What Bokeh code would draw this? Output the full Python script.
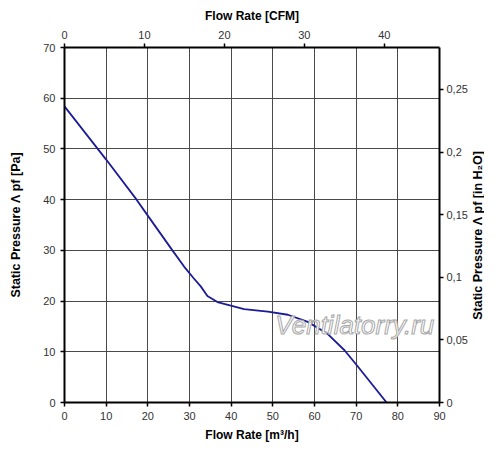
import math
from bokeh.plotting import figure
from bokeh.layouts import row
from bokeh.models import Range1d, LinearAxis, FixedTicker, Label, Grid
from bokeh.core.properties import value
from bokeh.embed import file_html
from bokeh.resources import INLINE

# Data
flow_m3h = [0, 10, 17.3, 20.2, 25.9, 28.7, 31.0, 32.7, 34.3, 36.7, 39.9, 43.1, 48.8, 53.6, 58.4, 63.2, 67.2, 70.4, 77.3]
pressure_pa = [58.4, 47.9, 40.0, 36.6, 30.0, 26.8, 24.5, 22.9, 21.0, 19.8, 19.1, 18.4, 17.9, 17.3, 15.9, 13.5, 10.3, 7.1, 0.0]

x_ticks = [0, 10, 20, 30, 40, 50, 60, 70, 80, 90]
y_ticks = [0, 10, 20, 30, 40, 50, 60, 70]
cfm_ticks = [0, 10, 20, 30, 40]
inh2o_ticks = [0, 0.05, 0.1, 0.15, 0.2, 0.25]
inh2o_labels = ["0", "0,05", "0,1", "0,15", "0,2", "0,25"]

FONT = "Liberation Sans"

p = figure(width=470, height=444, output_backend="svg", toolbar_location=None,
           x_range=Range1d(0, 90), y_range=Range1d(0, 70),
           x_axis_type=None, y_axis_type=None,
           min_border_left=64, min_border_right=30, min_border_top=47, min_border_bottom=40)
p.extra_x_ranges = {"cfm": Range1d(0, 46.9)}
p.extra_y_ranges = {"inh2o": Range1d(0, 0.2835)}

p.outline_line_color = None
p.background_fill_color = "white"
p.border_fill_color = "white"

p.add_layout(Grid(dimension=0, ticker=FixedTicker(ticks=x_ticks),
                  grid_line_color="#4a4a4a", grid_line_width=1), "center")
p.add_layout(Grid(dimension=1, ticker=FixedTicker(ticks=y_ticks),
                  grid_line_color="#4a4a4a", grid_line_width=1), "center")

p.line(flow_m3h, pressure_pa, line_color="#1c1c96", line_width=1.8)

bottom = LinearAxis(axis_label="Flow Rate [m³/h]", ticker=FixedTicker(ticks=x_ticks))
left = LinearAxis(axis_label="Static Pressure Λ pf [Pa]", ticker=FixedTicker(ticks=y_ticks))
top = LinearAxis(x_range_name="cfm", axis_label="Flow Rate [CFM]",
                 ticker=FixedTicker(ticks=cfm_ticks))
right = LinearAxis(y_range_name="inh2o", ticker=FixedTicker(ticks=inh2o_ticks))
right.major_label_overrides = {t: l for t, l in zip(inh2o_ticks, inh2o_labels)}

for ax in (bottom, left, top, right):
    ax.axis_line_color = "black"
    ax.axis_line_width = 2
    ax.major_tick_line_color = "black"
    ax.major_tick_line_width = 1.5
    ax.major_tick_in = 0
    ax.major_tick_out = 4
    ax.minor_tick_line_color = None
    ax.major_label_text_font = FONT
    ax.major_label_text_font_size = "11px"
    ax.major_label_text_color = "#333333"
    ax.axis_label_text_font = FONT
    ax.axis_label_text_font_size = "12px"
    ax.axis_label_text_font_style = "bold"
    ax.axis_label_text_color = "black"
    ax.major_label_standoff = 5
    ax.axis_label_standoff = 5

left.axis_label_text_font_size = "12.5px"
left.axis_label_standoff = 17
right.major_label_standoff = 3

p.add_layout(bottom, "below")
p.add_layout(left, "left")
p.add_layout(top, "above")
p.add_layout(right, "right")

wm = Label(x=50.6, y=15.2, text="Ventilatorry.ru", text_font=FONT,
           text_font_size="26px", text_font_style="italic", text_baseline="middle",
           text_color="white", text_outline_color="#a8a8a8")
p.add_layout(wm)

# narrow strip holding the right-hand axis title (reads bottom-to-top)
right_title_text = ["Static Pressure Λ pf [in H₂O]"]
p2 = figure(width=14, height=444, output_backend="svg", toolbar_location=None,
            x_range=Range1d(0, 1), y_range=Range1d(0, 444),
            x_axis_type=None, y_axis_type=None,
            min_border_left=0, min_border_right=0, min_border_top=0, min_border_bottom=0)
p2.outline_line_color = None
p2.background_fill_color = "white"
p2.border_fill_color = "white"
p2.grid.visible = False
p2.text(x=[0.5], y=[209], text=right_title_text, angle=math.pi / 2,
        text_font=value(FONT), text_font_size="12.5px", text_font_style="bold",
        text_align="center", text_baseline="middle", text_color="black")

layout = row(p, p2, spacing=0)
open("out.html", "w").write(file_html(layout, INLINE))
